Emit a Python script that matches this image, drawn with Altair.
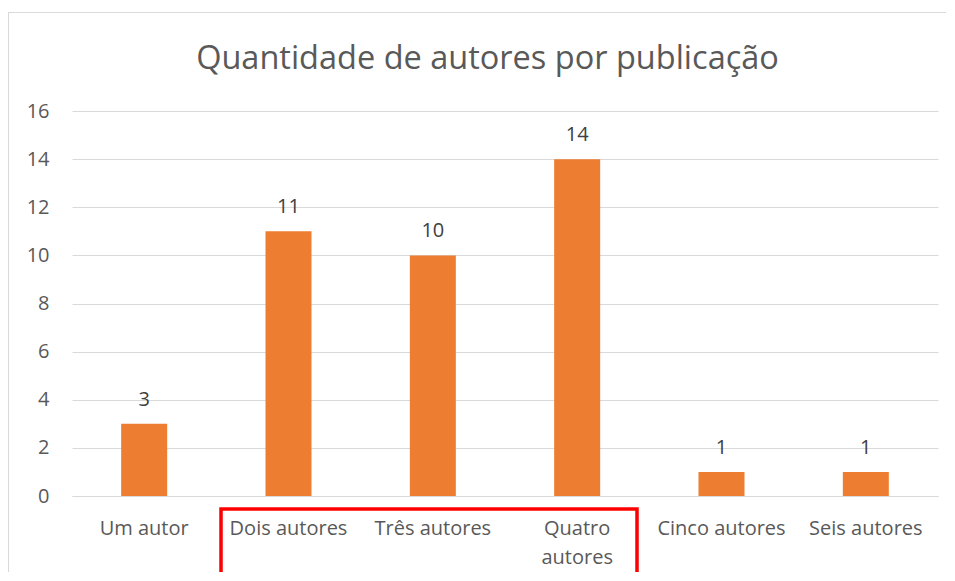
import altair as alt
import pandas as pd

categories = ["Um autor", "Dois autores", "Três autores", "Quatro autores", "Cinco autores", "Seis autores"]
values = [3, 11, 10, 14, 1, 1]
y_ticks = [0, 2, 4, 6, 8, 10, 12, 14, 16]
title_text = "Quantidade de autores por publicação"

df = pd.DataFrame({"cat": categories, "val": values})

FONT = "Open Sans"
GRAY = "#595959"

x_enc = alt.X(
    "cat:N",
    sort=categories,
    scale=alt.Scale(paddingInner=0, paddingOuter=0),
    axis=alt.Axis(
        title=None,
        labelAngle=0,
        labelLimit=0,
        labelFont=FONT,
        labelFontSize=20,
        labelColor=GRAY,
        labelPadding=22,
        labelBaseline="top",
        labelLineHeight=29,
        labelExpr="datum.value == 'Quatro autores' ? ['Quatro', 'autores'] : datum.label",
        ticks=False,
        domain=True,
        domainColor="#D9D9D9",
        grid=False,
    ),
)

y_enc = alt.Y(
    "val:Q",
    scale=alt.Scale(domain=[0, 16], nice=False),
    axis=alt.Axis(
        title=None,
        values=y_ticks,
        labelFont=FONT,
        labelFontSize=20,
        labelColor=GRAY,
        labelPadding=23,
        ticks=False,
        domain=False,
        grid=True,
        gridColor="#D9D9D9",
        gridWidth=1,
    ),
)

bars = alt.Chart(df).mark_bar(color="#ED7D31", width=46).encode(x=x_enc, y=y_enc)

labels = alt.Chart(df).mark_text(
    font=FONT, fontSize=20, color="#404040", baseline="alphabetic", dy=-18
).encode(x=alt.X("cat:N", sort=categories), y="val:Q", text="val:Q")

frame_df = pd.DataFrame({"k": [0]})
border_top = alt.Chart(frame_df).mark_rule(color="#D9D9D9", strokeWidth=1, clip=False).encode(
    x=alt.value(-64), x2=alt.value(1000), y=alt.value(-98.5)
)
border_left = alt.Chart(frame_df).mark_rule(color="#D9D9D9", strokeWidth=1, clip=False).encode(
    x=alt.value(-63.5), y=alt.value(-98.5), y2=alt.value(600)
)

title_mark = alt.Chart(frame_df).mark_text(
    text=title_text, font=FONT, fontSize=32.5, color=GRAY, align="center", baseline="alphabetic"
).encode(x=alt.value(415.5), y=alt.value(-42))

highlight = alt.Chart(frame_df).mark_rect(
    filled=False, stroke="#FF0000", strokeWidth=3.5, clip=False
).encode(
    x=alt.value(149), x2=alt.value(565), y=alt.value(398), y2=alt.value(520)
)

chart = alt.layer(border_top, border_left, title_mark, bars, labels, highlight).properties(
    width=866,
    height=385,
    padding={"left": 64, "top": 103, "right": 8, "bottom": 76},
    autosize=alt.AutoSizeParams(type="none"),
).configure_view(stroke=None)

chart.save("out.html", embed_options={"renderer": "svg", "actions": False})
